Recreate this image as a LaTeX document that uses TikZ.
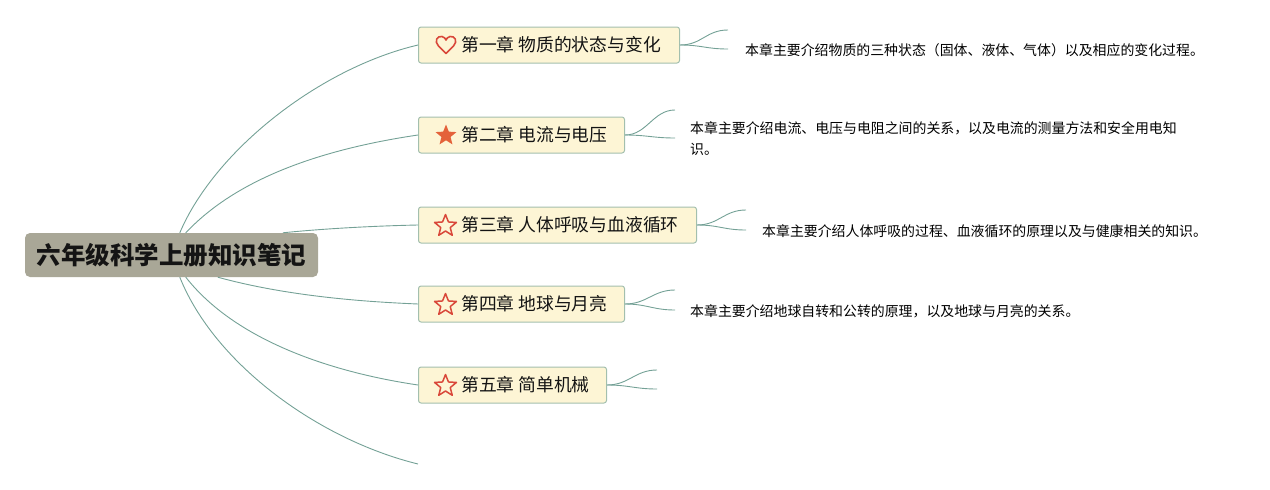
\documentclass[tikz,border=0pt]{standalone}
\usepackage{fontspec}
\setmainfont{Noto Sans CJK SC}
\usetikzlibrary{shapes.geometric}
\definecolor{rootfill}{HTML}{A9A797}
\definecolor{chapfill}{HTML}{FDF5D5}
\definecolor{chapdraw}{HTML}{A3BFAE}
\definecolor{linkcol}{HTML}{74A196}
\definecolor{iconred}{HTML}{D9483A}
\definecolor{iconorange}{HTML}{E4623A}
\tikzset{
  rootbox/.style={fill=rootfill, rounded corners=5pt, minimum width=293pt, minimum height=44pt, inner sep=0pt,
    font=\fontsize{24.5}{28}\selectfont\bfseries, text=black!92},
  chapbox/.style={fill=chapfill, draw=chapdraw, line width=1pt, rounded corners=2.5pt, minimum height=36pt, inner sep=0pt, anchor=west},
  chaptext/.style={font=\fontsize{17.8}{20}\selectfont, text=black!92, anchor=west, inner sep=0pt},
  desc/.style={font=\fontsize{13.9}{21}\selectfont, text=black, anchor=west, align=left, inner sep=0pt},
  link/.style={draw=linkcol, line width=0.9pt},
  outstar/.style={star, star points=5, star point ratio=2.3, minimum size=23pt, inner sep=0pt, draw=iconred, line width=1.5pt, line join=round},
  fullstar/.style={star, star points=5, star point ratio=2.3, minimum size=22pt, inner sep=0pt, fill=iconorange},
}
\begin{document}
\begin{tikzpicture}[x=1pt,y=-1pt]
\useasboundingbox (0,0) rectangle (1270,490);
% root
\node[rootbox] (root) at (171.5,255) {六年级科学上册知识笔记};
% chapter boxes
\node[chapbox, minimum width=261pt] (c1) at (418,45) {};
\node[chapbox, minimum width=206pt] (c2) at (418,135) {};
\node[chapbox, minimum width=278pt] (c3) at (418,225) {};
\node[chapbox, minimum width=206pt] (c4) at (418,304) {};
\node[chapbox, minimum width=188pt] (c5) at (418,385) {};
\coordinate (c6) at (418,464);
% chapter texts
\node[chaptext] (t1) at (461,45) {第一章 物质的状态与变化};
\node[chaptext] (t2) at (461,135) {第二章 电流与电压};
\node[chaptext] (t3) at (461,225) {第三章 人体呼吸与血液循环};
\node[chaptext] (t4) at (461,304) {第四章 地球与月亮};
\node[chaptext] (t5) at (461,385) {第五章 简单机械};
% icons
\draw[iconred, line width=1.6pt, line join=round]
  (446,53.5) -- (438.5,46) .. controls (434,41.5) and (437,35.5) .. (442,36.5)
  .. controls (444,37) and (445.5,38.5) .. (446,40)
  .. controls (446.5,38.5) and (448,37) .. (450,36.5)
  .. controls (455,35.5) and (458,41.5) .. (453.5,46) -- cycle;
\node[fullstar] (i2) at (446,135.5) {};
\node[outstar] (i3) at (445.5,226) {};
\node[outstar] (i4) at (445.5,305) {};
\node[outstar] (i5) at (445.5,386) {};
% main links
\draw[link] ([xshift=155pt]root.north west) .. controls (215,150) and (320,68) .. (c1.west);
\draw[link] ([xshift=161pt]root.north west) .. controls (240,175) and (330,148) .. (c2.west);
\draw[link] ([xshift=258pt]root.north west) .. controls (320,229) and (370,226) .. (c3.west);
\draw[link] ([xshift=193pt]root.south west) .. controls (290,297) and (370,302) .. (c4.west);
\draw[link] ([xshift=161pt]root.south west) .. controls (235,340) and (330,372) .. (c5.west);
\draw[link] ([xshift=155pt]root.south west) .. controls (215,365) and (320,440) .. (c6);
% forks
\coordinate (f1a) at (728,30); \coordinate (f1b) at (728,49);
\coordinate (f2a) at (675,110); \coordinate (f2b) at (675,138);
\coordinate (f3a) at (746,210); \coordinate (f3b) at (746,230);
\coordinate (f4a) at (675,290); \coordinate (f4b) at (675,310);
\coordinate (f5a) at (657,370); \coordinate (f5b) at (657,389);
\foreach \n in {1,...,5}{
  \draw[link] (c\n.east) .. controls +(22,0) and +(-22,0) .. (f\n a);
  \draw[link] (c\n.east) .. controls +(22,0) and +(-22,0) .. (f\n b);
}
% descriptions
\node[desc] (d1) at (745,50) {本章主要介绍物质的三种状态（固体、液体、气体）以及相应的变化过程。};
\node[desc, anchor=north west] (d2) at (690,121) {本章主要介绍电流、电压与电阻之间的关系，以及电流的测量方法和安全用电知\\识。};
\node[desc] (d3) at (762,231) {本章主要介绍人体呼吸的过程、血液循环的原理以及与健康相关的知识。};
\node[desc] (d4) at (690,311) {本章主要介绍地球自转和公转的原理，以及地球与月亮的关系。};
\end{tikzpicture}
\end{document}
